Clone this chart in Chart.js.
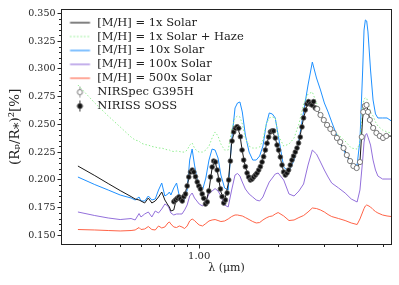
<!DOCTYPE html>
<html>
<head>
<meta charset="utf-8">
<script src="https://cdn.jsdelivr.net/npm/chart.js@4"></script>
<style>
  html, body { margin: 0; background: #fff; }
  canvas { display: block; }
</style>
</head>
<body>
<canvas id="chart" width="399" height="285"></canvas>
<script>
// model grid (micron) and transit depths (%) for each metallicity
const wavelength = [0.345, 0.40, 0.45, 0.50, 0.55, 0.57, 0.59, 0.60, 0.62, 0.64,
  0.66, 0.68, 0.70, 0.72, 0.74, 0.76, 0.77, 0.78, 0.80, 0.82,
  0.84, 0.86, 0.88, 0.90, 0.92, 0.94, 0.96, 0.98, 1.00, 1.03,
  1.06, 1.09, 1.12, 1.15, 1.18, 1.21, 1.25, 1.29, 1.33, 1.37,
  1.40, 1.43, 1.46, 1.50, 1.55, 1.60, 1.65, 1.70, 1.75, 1.80,
  1.85, 1.90, 1.95, 2.00, 2.10, 2.20, 2.30, 2.40, 2.50, 2.60,
  2.70, 2.80, 2.90, 3.00, 3.10, 3.20, 3.40, 3.60, 3.80, 4.00,
  4.10, 4.20, 4.25, 4.30, 4.35, 4.40, 4.50, 4.60, 4.70, 4.80,
  5.00, 5.20, 5.40]

const solar1x = [0.2124, 0.2038, 0.1966, 0.1903, 0.1849, 0.1827, 0.1818, 0.1809, 0.1791, 0.1836,
  0.1791, 0.1809, 0.1845, 0.1890, 0.1818, 0.1773, 0.1755, 0.1719, 0.1728, 0.1836,
  0.1845, 0.1818, 0.1863, 0.1944, 0.2052, 0.2088, 0.2052, 0.1980, 0.1935, 0.1863,
  0.1791, 0.1908, 0.2106, 0.2169, 0.2043, 0.1890, 0.1809, 0.1962, 0.2340, 0.2458,
  0.2476, 0.2403, 0.2259, 0.2115, 0.2025, 0.2016, 0.2052, 0.2106, 0.2196, 0.2304,
  0.2403, 0.2440, 0.2376, 0.2277, 0.2070, 0.2088, 0.2214, 0.2340, 0.2557, 0.2701,
  0.2692, 0.2638, 0.2584, 0.2530, 0.2467, 0.2440, 0.2358, 0.2259, 0.2142, 0.2106,
  0.2160, 0.2557, 0.2647, 0.2665, 0.2674, 0.2620, 0.2512, 0.2467, 0.2431, 0.2403,
  0.2385, 0.2394, 0.2394]

const solar1xHaze = [0.2854, 0.2692, 0.2575, 0.2476, 0.2385, 0.2358, 0.2349, 0.2331, 0.2318, 0.2313,
  0.2300, 0.2295, 0.2286, 0.2286, 0.2277, 0.2268, 0.2268, 0.2259, 0.2255, 0.2259,
  0.2255, 0.2250, 0.2250, 0.2268, 0.2313, 0.2331, 0.2286, 0.2259, 0.2250, 0.2250,
  0.2268, 0.2304, 0.2376, 0.2431, 0.2394, 0.2322, 0.2268, 0.2268, 0.2449, 0.2557,
  0.2575, 0.2566, 0.2503, 0.2376, 0.2304, 0.2286, 0.2286, 0.2295, 0.2358, 0.2503,
  0.2557, 0.2566, 0.2557, 0.2403, 0.2304, 0.2322, 0.2376, 0.2503, 0.2683, 0.2773,
  0.2791, 0.2692, 0.2611, 0.2530, 0.2485, 0.2449, 0.2403, 0.2349, 0.2286, 0.2277,
  0.2331, 0.2647, 0.2728, 0.2737, 0.2737, 0.2692, 0.2611, 0.2575, 0.2521, 0.2485,
  0.2449, 0.2431, 0.2422]

const solar10x = [0.2025, 0.1957, 0.1908, 0.1863, 0.1836, 0.1818, 0.1845, 0.1809, 0.1809, 0.1854,
  0.1818, 0.1827, 0.1908, 0.1971, 0.1854, 0.1872, 0.1890, 0.1863, 0.1926, 0.1971,
  0.1854, 0.1800, 0.1827, 0.1908, 0.2178, 0.2277, 0.2133, 0.2016, 0.1944, 0.1908,
  0.2016, 0.2178, 0.2277, 0.2268, 0.2196, 0.2043, 0.1926, 0.1908, 0.2358, 0.2647,
  0.2692, 0.2701, 0.2611, 0.2403, 0.2250, 0.2178, 0.2178, 0.2214, 0.2304, 0.2494,
  0.2602, 0.2593, 0.2557, 0.2403, 0.2115, 0.2070, 0.2178, 0.2358, 0.2611, 0.2854,
  0.3061, 0.2917, 0.2809, 0.2692, 0.2611, 0.2521, 0.2358, 0.2241, 0.2142, 0.2133,
  0.2358, 0.2989, 0.3349, 0.3440, 0.3431, 0.3332, 0.2989, 0.2719, 0.2593, 0.2557,
  0.2557, 0.2557, 0.2530]

const solar100x = [0.1710, 0.1678, 0.1656, 0.1642, 0.1651, 0.1638, 0.1696, 0.1665, 0.1692, 0.1710,
  0.1665, 0.1719, 0.1701, 0.1737, 0.1782, 0.1764, 0.1737, 0.1701, 0.1683, 0.1692,
  0.1692, 0.1692, 0.1728, 0.1773, 0.1854, 0.1881, 0.1836, 0.1809, 0.1782, 0.1764,
  0.1809, 0.1872, 0.1899, 0.1921, 0.1899, 0.1854, 0.1773, 0.1755, 0.1908, 0.2043,
  0.2057, 0.2034, 0.1980, 0.1917, 0.1872, 0.1845, 0.1818, 0.1809, 0.1845, 0.1917,
  0.1980, 0.2016, 0.2052, 0.2061, 0.1998, 0.1872, 0.1854, 0.1899, 0.1962, 0.2133,
  0.2268, 0.2232, 0.2160, 0.2088, 0.2025, 0.1971, 0.1926, 0.1881, 0.1827, 0.1800,
  0.1908, 0.2178, 0.2340, 0.2403, 0.2417, 0.2385, 0.2313, 0.2178, 0.2088, 0.2034,
  0.2007, 0.2007, 0.2007]

const solar500x = [0.1552, 0.1548, 0.1543, 0.1539, 0.1543, 0.1548, 0.1570, 0.1552, 0.1557, 0.1579,
  0.1552, 0.1548, 0.1584, 0.1566, 0.1575, 0.1611, 0.1620, 0.1602, 0.1575, 0.1570,
  0.1584, 0.1575, 0.1561, 0.1584, 0.1629, 0.1647, 0.1633, 0.1611, 0.1593, 0.1584,
  0.1606, 0.1629, 0.1638, 0.1642, 0.1633, 0.1624, 0.1629, 0.1647, 0.1669, 0.1683,
  0.1683, 0.1678, 0.1674, 0.1660, 0.1642, 0.1624, 0.1611, 0.1615, 0.1638, 0.1656,
  0.1669, 0.1674, 0.1692, 0.1705, 0.1674, 0.1633, 0.1638, 0.1660, 0.1678, 0.1710,
  0.1746, 0.1741, 0.1728, 0.1710, 0.1687, 0.1669, 0.1651, 0.1633, 0.1611, 0.1597,
  0.1647, 0.1710, 0.1741, 0.1764, 0.1773, 0.1768, 0.1755, 0.1732, 0.1714, 0.1701,
  0.1683, 0.1674, 0.1669]

// observed spectra
const sossWave = [0.801, 0.813, 0.825, 0.837, 0.849, 0.862, 0.874, 0.887, 0.900, 0.913,
  0.927, 0.941, 0.954, 0.968, 0.983, 0.997, 1.011, 1.027, 1.041, 1.057,
  1.073, 1.088, 1.104, 1.121, 1.136, 1.153, 1.171, 1.187, 1.205, 1.223,
  1.241, 1.259, 1.278, 1.296, 1.315, 1.335, 1.354, 1.374, 1.395, 1.415,
  1.436, 1.457, 1.478, 1.500, 1.523, 1.544, 1.567, 1.591, 1.613, 1.638,
  1.662, 1.686, 1.711, 1.737, 1.761, 1.788, 1.814, 1.840, 1.868, 1.896,
  1.922, 1.951, 1.981, 2.008, 2.039, 2.069, 2.098, 2.130, 2.162, 2.192,
  2.225, 2.258, 2.290, 2.325, 2.360, 2.393, 2.429, 2.465, 2.500, 2.537,
  2.576, 2.612, 2.651, 2.691, 2.729, 2.770]

const sossDepth = [0.1803, 0.1818, 0.1833, 0.1845, 0.1827, 0.1809, 0.1848, 0.1872, 0.1944, 0.2025,
  0.2070, 0.2088, 0.2070, 0.2028, 0.1980, 0.1944, 0.1917, 0.1872, 0.1833, 0.1782,
  0.1800, 0.1899, 0.2025, 0.2115, 0.2169, 0.2160, 0.2088, 0.1998, 0.1917, 0.1848,
  0.1791, 0.1818, 0.1881, 0.1998, 0.2169, 0.2349, 0.2431, 0.2464, 0.2478, 0.2464,
  0.2388, 0.2268, 0.2178, 0.2118, 0.2061, 0.2025, 0.1998, 0.2007, 0.2025, 0.2043,
  0.2061, 0.2088, 0.2118, 0.2160, 0.2208, 0.2268, 0.2329, 0.2385, 0.2431, 0.2440,
  0.2440, 0.2376, 0.2313, 0.2268, 0.2205, 0.2133, 0.2070, 0.2043, 0.2061, 0.2088,
  0.2133, 0.2178, 0.2214, 0.2250, 0.2286, 0.2331, 0.2385, 0.2476, 0.2557, 0.2629,
  0.2683, 0.2704, 0.2683, 0.2674, 0.2704, 0.2647]

const sossErr = [0.0022, 0.0020, 0.0020, 0.0019, 0.0019, 0.0018, 0.0018, 0.0017, 0.0017, 0.0016,
  0.0016, 0.0016, 0.0016, 0.0015, 0.0015, 0.0015, 0.0015, 0.0015, 0.0015, 0.0015,
  0.0015, 0.0014, 0.0014, 0.0014, 0.0014, 0.0014, 0.0014, 0.0014, 0.0014, 0.0014,
  0.0014, 0.0014, 0.0014, 0.0014, 0.0014, 0.0014, 0.0014, 0.0014, 0.0014, 0.0014,
  0.0014, 0.0014, 0.0014, 0.0014, 0.0014, 0.0014, 0.0014, 0.0014, 0.0014, 0.0014,
  0.0015, 0.0015, 0.0015, 0.0015, 0.0015, 0.0015, 0.0015, 0.0015, 0.0015, 0.0015,
  0.0016, 0.0016, 0.0016, 0.0016, 0.0016, 0.0016, 0.0016, 0.0016, 0.0016, 0.0016,
  0.0017, 0.0017, 0.0017, 0.0017, 0.0017, 0.0018, 0.0018, 0.0018, 0.0018, 0.0019,
  0.0019, 0.0020, 0.0020, 0.0021, 0.0021, 0.0022]

const nirspecWave = [2.818, 2.900, 2.985, 3.072, 3.162, 3.255, 3.350, 3.448, 3.550, 3.654,
  3.761, 3.871, 3.984, 4.101, 4.166, 4.221, 4.280, 4.345, 4.400, 4.473,
  4.604, 4.738, 4.877, 5.020, 5.168]

const nirspecDepth = [0.2638, 0.2584, 0.2539, 0.2494, 0.2458, 0.2422, 0.2377, 0.2340, 0.2286, 0.2223,
  0.2169, 0.2124, 0.2106, 0.2160, 0.2386, 0.2611, 0.2665, 0.2674, 0.2611, 0.2539,
  0.2467, 0.2422, 0.2395, 0.2377, 0.2395]

const nirspecErr = [0.0020, 0.0018, 0.0017, 0.0017, 0.0016, 0.0016, 0.0016, 0.0016, 0.0016, 0.0017,
  0.0017, 0.0018, 0.0018, 0.0019, 0.0020, 0.0020, 0.0020, 0.0020, 0.0020, 0.0021,
  0.0022, 0.0023, 0.0024, 0.0025, 0.0027]

// axes
const yTicks = [0.150, 0.175, 0.200, 0.225, 0.250, 0.275, 0.300, 0.325, 0.350]
const xTicks = [1.0]
const xMinorTicks = [0.4, 0.5, 0.6, 0.7, 0.8, 0.9, 2, 3, 4, 5]

const FONT = 'DejaVu Serif'
const INK = '#222'

const toPoints = (xs, ys) => xs.map((x, i) => ({ x, y: ys[i] }))

const models = [
  { label: '[M/H] = 1x Solar', values: solar1x, color: '#1a1a1a', order: 1 },
  { label: '[M/H] = 1x Solar + Haze', values: solar1xHaze, color: '#90ee90', dash: [1.5, 2], order: 2 },
  { label: '[M/H] = 10x Solar', values: solar10x, color: '#1e90ff', order: 3 },
  { label: '[M/H] = 100x Solar', values: solar100x, color: '#9370db', order: 4 },
  { label: '[M/H] = 500x Solar', values: solar500x, color: '#ff6347', order: 5 }
]

function legendSymbol({ color, dash, marker }) {
  const c = document.createElement('canvas')
  c.width = 27
  c.height = 12
  const ctx = c.getContext('2d')
  if (marker) {
    ctx.strokeStyle = marker.bar
    ctx.lineWidth = 1
    ctx.beginPath()
    ctx.moveTo(15.5, 0.5)
    ctx.lineTo(15.5, 11.5)
    ctx.stroke()
    ctx.beginPath()
    ctx.arc(15.5, 6, 2.6, 0, Math.PI * 2)
    ctx.fillStyle = marker.fill
    ctx.fill()
    ctx.strokeStyle = marker.edge
    ctx.stroke()
  } else {
    ctx.globalAlpha = 0.55
    ctx.strokeStyle = color
    ctx.lineWidth = 2
    ctx.setLineDash(dash || [])
    ctx.beginPath()
    ctx.moveTo(5.6, 6)
    ctx.lineTo(25.6, 6)
    ctx.stroke()
  }
  return c
}

const legendEntries = [
  ...models.map(m => ({ text: m.label, symbol: legendSymbol(m) })),
  { text: 'NIRSpec G395H', symbol: legendSymbol({ marker: { fill: '#fff', edge: '#777', bar: '#999' } }) },
  { text: 'NIRISS SOSS', symbol: legendSymbol({ marker: { fill: '#111', edge: '#555', bar: '#333' } }) }
]

const errorBars = {
  id: 'errorBars',
  beforeDatasetDraw(chart, { index, meta }) {
    const ds = chart.data.datasets[index]
    if (!ds.errors) return
    const { ctx } = chart
    const y = chart.scales.y
    ctx.save()
    ctx.strokeStyle = ds.errorColor
    ctx.lineWidth = 1
    meta.data.forEach((pt, i) => {
      const v = ds.data[i].y
      ctx.beginPath()
      ctx.moveTo(pt.x, y.getPixelForValue(v - ds.errors[i]))
      ctx.lineTo(pt.x, y.getPixelForValue(v + ds.errors[i]))
      ctx.stroke()
    })
    ctx.restore()
  }
}

const axisFrame = {
  id: 'axisFrame',
  afterDraw(chart) {
    const { ctx, chartArea: a, scales } = chart
    const l = Math.round(a.left) - 0.5
    const r = Math.round(a.right) + 0.5
    const t = Math.round(a.top) - 0.5
    const b = Math.round(a.bottom) + 0.5
    ctx.save()
    ctx.strokeStyle = INK
    ctx.lineWidth = 1
    ctx.strokeRect(l, t, r - l, b - t)
    ctx.beginPath()
    xMinorTicks.forEach(v => {
      const px = Math.round(scales.x.getPixelForValue(v)) + 0.5
      ctx.moveTo(px, b)
      ctx.lineTo(px, b + 2.5)
    })
    for (let i = 0; i < yTicks.length - 1; i++) {
      for (let k = 1; k < 5; k++) {
        const v = yTicks[i] + (yTicks[i + 1] - yTicks[i]) * k / 5
        const py = Math.round(scales.y.getPixelForValue(v)) + 0.5
        ctx.moveTo(l, py)
        ctx.lineTo(l - 2.5, py)
      }
    }
    ctx.stroke()
    ctx.restore()
  }
}

Chart.defaults.font.family = FONT
Chart.defaults.color = INK

const datasets = [
  {
    label: 'NIRSpec G395H',
    data: toPoints(nirspecWave, nirspecDepth),
    errors: nirspecErr,
    errorColor: '#999',
    pointRadius: 2.6,
    pointBackgroundColor: '#fff',
    pointBorderColor: '#777',
    pointBorderWidth: 1,
    order: 0
  },
  {
    label: 'NIRISS SOSS',
    data: toPoints(sossWave, sossDepth),
    errors: sossErr,
    errorColor: '#333',
    pointRadius: 2.4,
    pointBackgroundColor: '#111',
    pointBorderColor: '#666',
    pointBorderWidth: 0.8,
    order: 0
  },
  ...models.map(m => ({
    label: m.label,
    data: toPoints(wavelength, m.values),
    showLine: true,
    borderColor: m.color,
    borderWidth: 1,
    borderDash: m.dash || [],
    pointRadius: 0,
    tension: 0,
    order: m.order
  }))
]

const ctx = document.getElementById('chart').getContext('2d')

new Chart(ctx, {
  type: 'scatter',
  data: { datasets },
  plugins: [errorBars, axisFrame],
  options: {
    responsive: false,
    devicePixelRatio: 1,
    animation: false,
    layout: { padding: { left: 0, right: 8, top: 9.5, bottom: 0 } },
    plugins: {
      tooltip: { enabled: false },
      legend: {
        position: 'chartArea',
        align: 'start',
        title: { display: true, text: '', font: { size: 1, lineHeight: 1 }, padding: { top: 13.5, bottom: 0 } },
        labels: {
          usePointStyle: true,
          pointStyleWidth: 27,
          padding: 2.4,
          font: { family: FONT, size: 11.5 },
          color: INK,
          generateLabels: () => legendEntries.map((e, i) => ({
            text: e.text,
            pointStyle: e.symbol,
            fontColor: INK,
            hidden: false,
            lineWidth: 0,
            datasetIndex: i
          }))
        }
      }
    },
    scales: {
      x: {
        type: 'logarithmic',
        min: 0.3021,
        max: 5.385,
        afterBuildTicks: scale => { scale.ticks = xTicks.map(value => ({ value })) },
        afterFit: scale => { scale.height = 41 },
        ticks: {
          callback: v => Number(v).toFixed(2),
          font: { family: FONT, size: 10 },
          color: INK,
          padding: 2,
          maxRotation: 0,
          autoSkip: false
        },
        grid: { drawOnChartArea: false, tickLength: 4.5, tickColor: INK },
        border: { display: false },
        title: {
          display: true,
          text: 'λ (μm)',
          font: { family: FONT, size: 11 },
          color: INK,
          padding: { top: 0, bottom: 10.5 }
        }
      },
      y: {
        min: 0.14216,
        max: 0.35342,
        afterBuildTicks: scale => { scale.ticks = yTicks.map(value => ({ value })) },
        afterFit: scale => { scale.width = 62 },
        ticks: {
          callback: v => Number(v).toFixed(3),
          font: { family: FONT, size: 9.5 },
          color: INK,
          padding: 2,
          autoSkip: false
        },
        grid: { drawOnChartArea: false, tickLength: 4.5, tickColor: INK },
        border: { display: false },
        title: {
          display: true,
          text: '(Rₚ/R⁎)²[%]',
          font: { family: FONT, size: 13.5 },
          color: INK,
          padding: { top: 7, bottom: 0 }
        }
      }
    }
  }
})
</script>
</body>
</html>
